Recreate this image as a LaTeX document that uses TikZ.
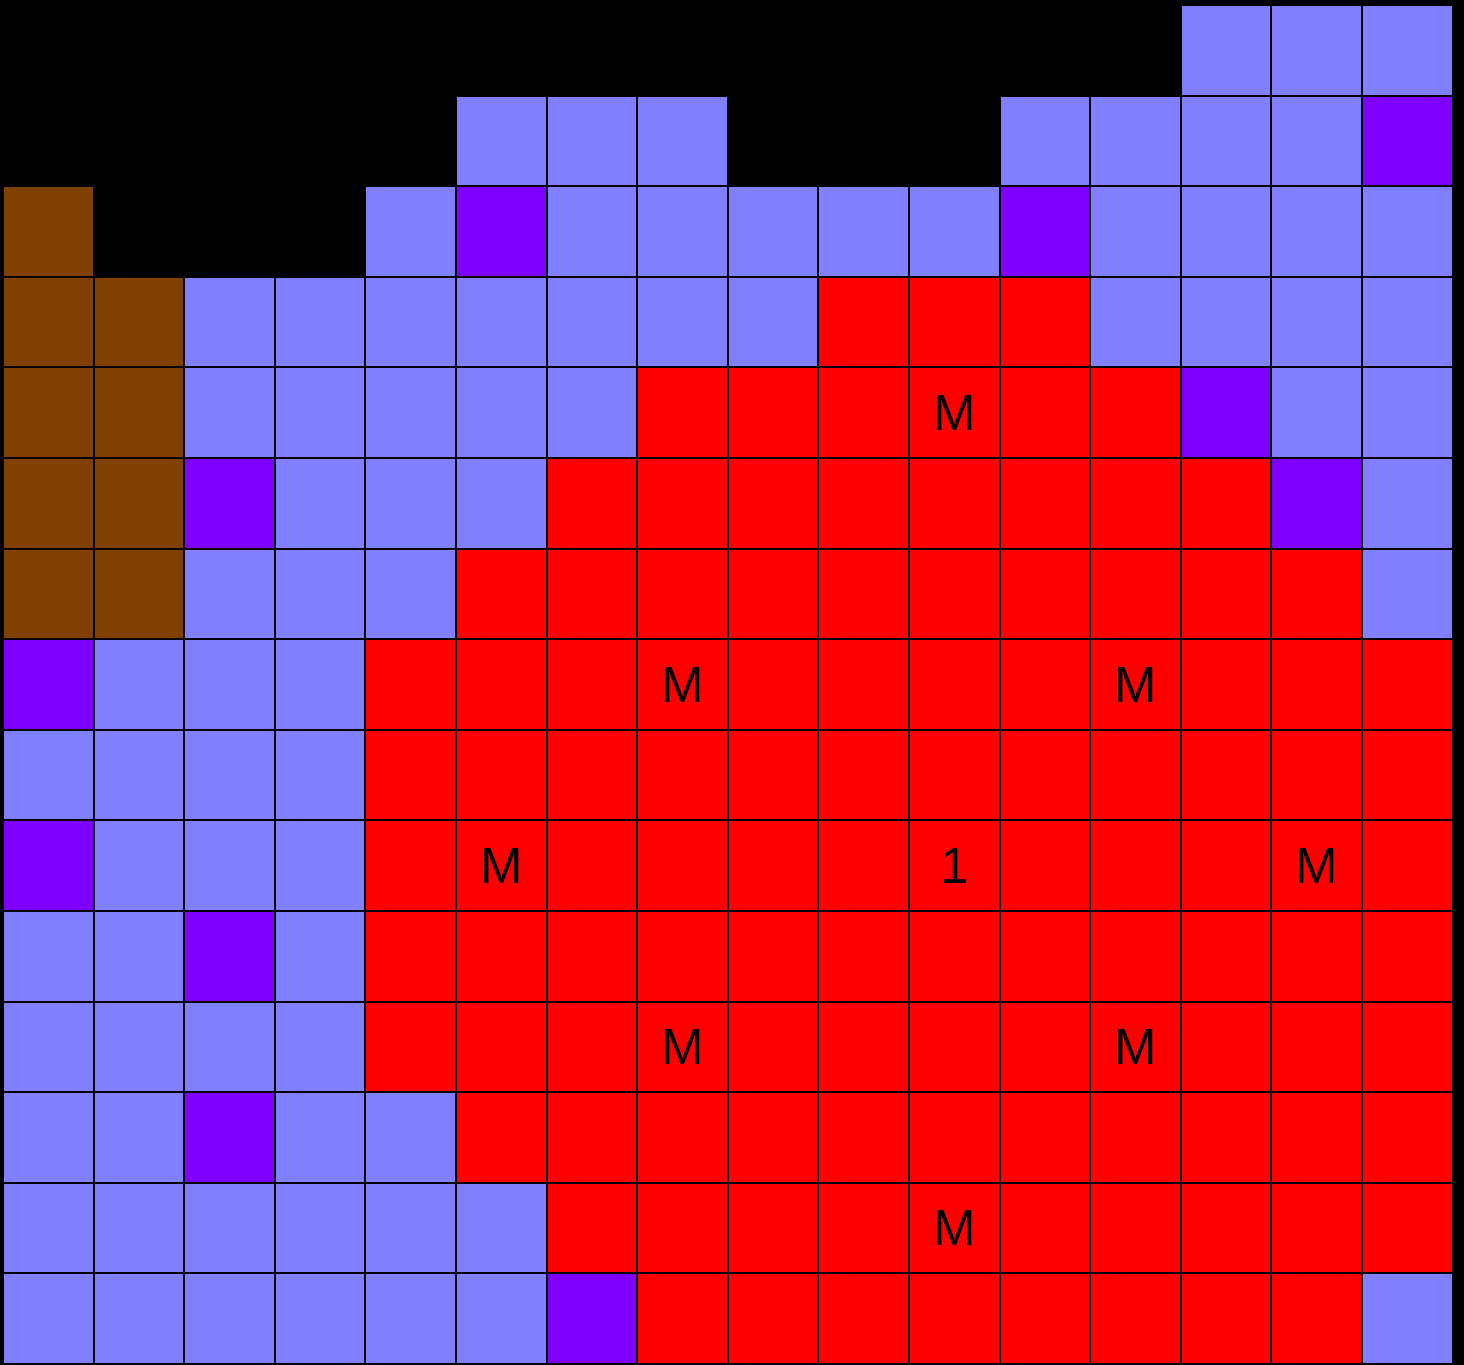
\documentclass[tikz,border=0pt]{standalone}
\usepackage{fontspec}
\setmainfont{Liberation Sans}
\usetikzlibrary{positioning}

% cell colours
\definecolor{K}{HTML}{000000}
\definecolor{B}{HTML}{8080FF}
\definecolor{P}{HTML}{8000FF}
\definecolor{R}{HTML}{FF0000}
\definecolor{O}{HTML}{804000}

\begin{document}
\begin{tikzpicture}[
        cell/.style={draw=black, line width=0.6pt},
        mark label/.style={font=\fontsize{16}{19}\selectfont, text=black, inner sep=0pt}
      ]
        % Hintergrund
        \fill[black] (-0.033,0.055) rectangle (16.126,-15.011);
        \useasboundingbox (-0.033,0.055) rectangle (16.126,-15.011);

        % Raster, Zeile fuer Zeile
        \foreach \row [count=\j from 0] in {
            {K,K,K,K,K,K,K,K,K,K,K,K,K,B,B,B},
            {K,K,K,K,K,B,B,B,K,K,K,B,B,B,B,P},
            {O,K,K,K,B,P,B,B,B,B,B,P,B,B,B,B},
            {O,O,B,B,B,B,B,B,B,R,R,R,B,B,B,B},
            {O,O,B,B,B,B,B,R,R,R,R,R,R,P,B,B},
            {O,O,P,B,B,B,R,R,R,R,R,R,R,R,P,B},
            {O,O,B,B,B,R,R,R,R,R,R,R,R,R,R,B},
            {P,B,B,B,R,R,R,R,R,R,R,R,R,R,R,R},
            {B,B,B,B,R,R,R,R,R,R,R,R,R,R,R,R},
            {P,B,B,B,R,R,R,R,R,R,R,R,R,R,R,R},
            {B,B,P,B,R,R,R,R,R,R,R,R,R,R,R,R},
            {B,B,B,B,R,R,R,R,R,R,R,R,R,R,R,R},
            {B,B,P,B,B,R,R,R,R,R,R,R,R,R,R,R},
            {B,B,B,B,B,B,R,R,R,R,R,R,R,R,R,R},
            {B,B,B,B,B,B,P,R,R,R,R,R,R,R,R,B}} {
          \foreach \c [count=\i from 0] in \row {
            \filldraw[cell, fill=\c] (\i,-\j) rectangle ++(1,-1);
          }
        }

        % Markierungen
        \node[mark label] (mA) at (10.5,-4.5) {M};
        \node[mark label] (mB) at (7.5,-7.5) {M};
        \node[mark label] (mC) at (12.5,-7.5) {M};
        \node[mark label] (mD) at (5.5,-9.5) {M};
        \node[mark label] (one) at (10.5,-9.5) {1};
        \node[mark label] (mE) at (14.5,-9.5) {M};
        \node[mark label] (mF) at (7.5,-11.5) {M};
        \node[mark label] (mG) at (12.5,-11.5) {M};
        \node[mark label] (mH) at (10.5,-13.5) {M};
      \end{tikzpicture}
\end{document}
